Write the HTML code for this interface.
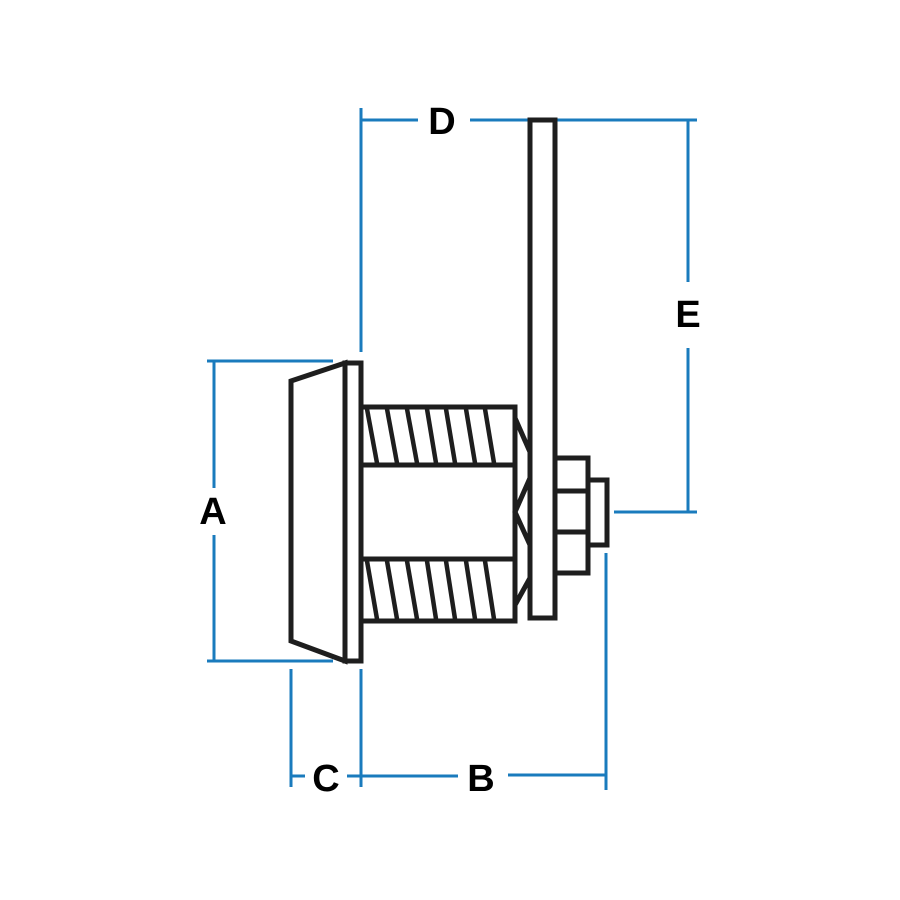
<!DOCTYPE html>
<html><head><style>
html,body{margin:0;padding:0;background:#fff;}
svg{display:block;}
text{font-family:"Liberation Sans",sans-serif;font-weight:bold;font-size:38px;fill:#000;text-anchor:middle;}
</style></head><body>
<svg width="900" height="900" viewBox="0 0 900 900" xmlns="http://www.w3.org/2000/svg">
<g stroke="#1a7bbd" stroke-width="3" fill="none">
<!-- A -->
<line x1="207" y1="361" x2="333" y2="361"/>
<line x1="207" y1="661" x2="333" y2="661"/>
<line x1="214" y1="361" x2="214" y2="488"/>
<line x1="214" y1="535" x2="214" y2="661"/>
<!-- D -->
<line x1="361" y1="108" x2="361" y2="352"/>
<line x1="361" y1="120" x2="418" y2="120"/>
<line x1="470" y1="120" x2="697" y2="120"/>
<!-- E -->
<line x1="688" y1="120" x2="688" y2="282"/>
<line x1="688" y1="348" x2="688" y2="512"/>
<line x1="614" y1="512" x2="697" y2="512"/>
<!-- B / C -->
<line x1="606" y1="553" x2="606" y2="790"/>
<line x1="291" y1="669" x2="291" y2="787"/>
<line x1="361" y1="669" x2="361" y2="787"/>
<line x1="291" y1="776" x2="305" y2="776"/>
<line x1="347" y1="776" x2="458" y2="776"/>
<line x1="508" y1="775" x2="606" y2="775"/>
</g>
<g stroke="#1e1e1e" stroke-width="5" fill="none" stroke-linejoin="miter">
<polygon points="291,381 345,363 345,661 291,641"/>
<rect x="345" y="363" width="16" height="298"/>
<rect x="361" y="407" width="154" height="214"/>
<line x1="361" y1="465" x2="515" y2="465"/>
<line x1="361" y1="559" x2="515" y2="559"/>
<g stroke-width="4.5">
<line x1="367" y1="409" x2="377" y2="463"/>
<line x1="387" y1="409" x2="397" y2="463"/>
<line x1="407" y1="409" x2="417" y2="463"/>
<line x1="427" y1="409" x2="436" y2="463"/>
<line x1="446" y1="409" x2="455" y2="463"/>
<line x1="466" y1="409" x2="475" y2="463"/>
<line x1="485" y1="409" x2="494" y2="463"/>
<line x1="367" y1="561" x2="377" y2="619"/>
<line x1="387" y1="561" x2="397" y2="619"/>
<line x1="407" y1="561" x2="417" y2="619"/>
<line x1="427" y1="561" x2="436" y2="619"/>
<line x1="446" y1="561" x2="455" y2="619"/>
<line x1="466" y1="561" x2="475" y2="619"/>
<line x1="485" y1="561" x2="494" y2="619"/>
</g>
<polyline points="515,418 530,452"/>
<polyline points="530,478 515,512 530,545"/>
<polyline points="530,578 515,605"/>
<rect x="530" y="120" width="25" height="498" fill="#fff"/>
<rect x="555" y="458" width="33" height="115"/>
<line x1="555" y1="491" x2="588" y2="491"/>
<line x1="555" y1="532" x2="588" y2="532"/>
<rect x="588" y="480" width="19" height="65"/>
</g>
<text x="213" y="524">A</text>
<text x="442" y="134">D</text>
<text x="688" y="327">E</text>
<text x="326" y="791">C</text>
<text x="481" y="791">B</text>
</svg>
</body></html>
